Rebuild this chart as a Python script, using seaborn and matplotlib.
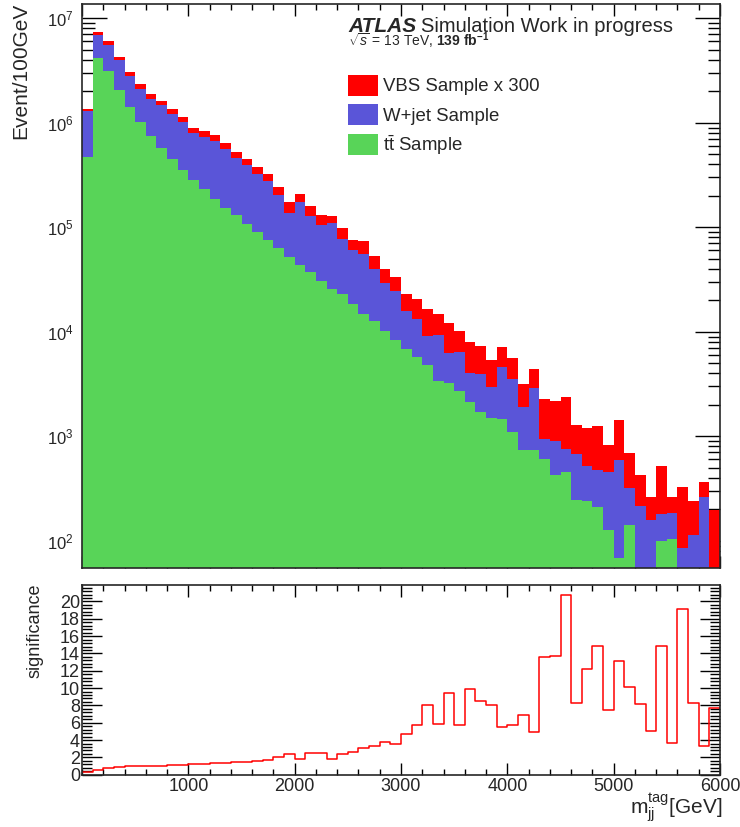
import numpy as np
import pandas as pd
import seaborn as sns
import matplotlib
matplotlib.use("Agg")
import matplotlib.pyplot as plt
from matplotlib.patches import Patch
from matplotlib.transforms import Affine2D
from matplotlib.ticker import MultipleLocator, LogLocator, NullFormatter, LogFormatterSciNotation

# ---------------------------------------------------------------- data
bin_edges = list(range(0, 6001, 100))

ttbar = [4.73e5, 4.16e6, 3.13e6, 2.04e6, 1.41e6, 1.01e6, 7.46e5, 5.73e5, 4.47e5, 3.52e5,
         2.83e5, 2.32e5, 1.87e5, 1.54e5, 1.30e5, 1.08e5, 8.93e4, 7.50e4, 6.28e4, 5.19e4,
         4.35e4, 3.73e4, 3.06e4, 2.56e4, 2.28e4, 1.84e4, 1.48e4, 1.27e4, 1.02e4, 8330,
         6830, 5730, 4800, 3380, 3230, 2710, 2120, 1690, 1490, 1450,
         1090, 738, 738, 601, 425, 454, 245, 238, 209, 128,
         69, 141, 0, 0, 99, 104, 0, 0, 0, 0]

wjet = [8.13e5, 2.70e6, 2.41e6, 1.91e6, 1.37e6, 1.09e6, 9.4e5, 8.97e5, 7.73e5, 6.57e5,
        5.14e5, 5.03e5, 4.81e5, 4.06e5, 3.29e5, 2.83e5, 2.34e5, 2.02e5, 1.39e5, 8.6e4,
        1.305e5, 9.07e4, 7.44e4, 8.34e4, 5.48e4, 4.21e4, 4.09e4, 2.74e4, 1.88e4, 1.60e4,
        8970, 7470, 4300, 5860, 2980, 3730, 1910, 2250, 1450, 3120,
        2420, 1152, 2132, 339, 475, 296, 426, 281, 266, 324,
        519, 182, 215, 158, 80, 79, 86, 113, 260, 0]

vbs_x300 = [5.7e4, 4.7e5, 4.7e5, 3.0e5, 2.5e5, 2.4e5, 1.8e5, 1.4e5, 1.4e5, 1.26e5,
            1.03e5, 9.3e4, 8.9e4, 7.5e4, 6.9e4, 5.9e4, 5.4e4, 4.8e4, 4.2e4, 3.6e4,
            3.2e4, 3.3e4, 2.6e4, 2.0e4, 2.0e4, 1.45e4, 1.76e4, 1.32e4, 1.11e4, 8900,
            7200, 7400, 7400, 5500, 5800, 3660, 3990, 3410, 2480, 2520,
            2050, 1290, 1500, 1340, 1290, 1640, 600, 690, 770, 368,
            840, 375, 208, 104, 336, 81, 241, 126, 102, 195]

significance = [0.35, 0.58, 0.73, 0.85, 0.96, 1.00, 1.00, 1.04, 1.08, 1.15,
                1.19, 1.19, 1.31, 1.35, 1.42, 1.42, 1.54, 1.65, 2.00, 2.42,
                1.77, 2.46, 2.46, 1.77, 2.42, 2.58, 3.08, 3.27, 3.73, 3.58,
                4.65, 5.73, 8.08, 5.88, 9.38, 5.73, 9.88, 8.50, 8.08, 5.54,
                5.77, 6.88, 4.96, 13.58, 13.69, 20.73, 8.31, 12.15, 14.88, 7.46,
                13.12, 10.08, 8.15, 5.08, 14.88, 3.69, 19.12, 8.23, 3.35, 7.69]

samples = ["VBS Sample x 300", "W+jet Sample", r"t$\bar{\mathrm{t}}$ Sample"]
colors = ["#ff0000", "#5a55d8", "#58d458"]

# ---------------------------------------------------------------- style
sns.set_theme(style="ticks")
plt.rcParams["font.family"] = ["Liberation Sans", "DejaVu Sans"]
plt.rcParams["mathtext.fontset"] = "custom"
plt.rcParams["mathtext.rm"] = "Liberation Sans"
plt.rcParams["mathtext.it"] = "Liberation Sans:italic"
plt.rcParams["mathtext.bf"] = "Liberation Sans:bold"
plt.rcParams["axes.linewidth"] = 1.2

W, H = 740, 827
fig = plt.figure(figsize=(W / 100, H / 100), dpi=100)
# pixel coordinates measured from the top-left corner of the canvas
px = Affine2D().scale(1 / W, -1 / H).translate(0, 1) + fig.transFigure


def axes_box(x0, y0, x1, y1):
    return [x0 / W, 1 - y1 / H, (x1 - x0) / W, (y1 - y0) / H]


ax_top = fig.add_axes(axes_box(82, 4, 720, 568.3))
ax_bot = fig.add_axes(axes_box(82, 585, 720, 774.7))

# ---------------------------------------------------------------- stacked histogram
centers = [(a + b) / 2 for a, b in zip(bin_edges[:-1], bin_edges[1:])]
long = pd.DataFrame({
    "mjj": centers * 3,
    "events": vbs_x300 + wjet + ttbar,
    "sample": [s for s in samples for _ in centers],
})
sns.histplot(data=long, x="mjj", weights="events", hue="sample", hue_order=samples,
             palette=colors, multiple="stack", bins=bin_edges, element="bars",
             shrink=1, linewidth=0, alpha=1, legend=False, ax=ax_top)
ax_top.set_yscale("log")
ax_top.set_xlim(0, 6000)
ax_top.set_ylim(54.5, 1.37e7)
ax_top.set_xlabel("")
ax_top.set_ylabel("")

ax_top.xaxis.set_major_locator(MultipleLocator(1000))
ax_top.xaxis.set_minor_locator(MultipleLocator(200))
ax_top.yaxis.set_major_locator(LogLocator(base=10, numticks=20))
ax_top.yaxis.set_minor_locator(LogLocator(base=10, subs=np.arange(2, 10), numticks=20))
ax_top.yaxis.set_minor_formatter(NullFormatter())
ax_top.yaxis.set_major_formatter(LogFormatterSciNotation())
ax_top.tick_params(axis="both", which="both", direction="in", top=True, right=True,
                   color="black", width=1.0)
ax_top.tick_params(axis="x", which="major", length=8.6, labelbottom=False)
ax_top.tick_params(axis="x", which="minor", length=4.3)
ax_top.tick_params(axis="y", which="major", length=18, labelsize=12, pad=6)
ax_top.tick_params(axis="y", which="minor", length=9)

ax_top.legend(handles=[Patch(facecolor=c, edgecolor="none", label=s)
                       for s, c in zip(samples, colors)],
              loc="upper left", bbox_to_anchor=(348, 75), bbox_transform=px,
              frameon=False, fontsize=13.4, borderpad=0, borderaxespad=0,
              handlelength=1.61, handleheight=1.32, handletextpad=0.28,
              labelspacing=0.46)

# ---------------------------------------------------------------- significance
sns.histplot(x=centers, weights=significance, bins=bin_edges, element="step",
             fill=False, color="#ff0000", linewidth=1.1, ax=ax_bot)
ax_bot.set_xlim(0, 6000)
ax_bot.set_ylim(0, 21.9)
ax_bot.set_xlabel("")
ax_bot.set_ylabel("")
ax_bot.xaxis.set_major_locator(MultipleLocator(1000))
ax_bot.xaxis.set_minor_locator(MultipleLocator(200))
ax_bot.yaxis.set_major_locator(MultipleLocator(2))
ax_bot.yaxis.set_minor_locator(MultipleLocator(0.4))
ax_bot.set_xticks([1000, 2000, 3000, 4000, 5000, 6000])
ax_bot.tick_params(axis="both", which="both", direction="in", top=True, right=True,
                   color="black", width=1.0, labelsize=13)
ax_bot.tick_params(axis="x", which="major", length=8.6, pad=2.5)
ax_bot.tick_params(axis="x", which="minor", length=4.3)
ax_bot.tick_params(axis="y", which="major", length=14.4, pad=1.5)
ax_bot.tick_params(axis="y", which="minor", length=7.2)

# ---------------------------------------------------------------- texts
fig.text(21, 139, "Event/100GeV", transform=px, rotation=90, ha="center",
         va="bottom", fontsize=15)
fig.text(35, 583, "significance", transform=px, rotation=90, ha="center", va="top",
         fontsize=13)
fig.text(722, 813, r"m$_{\mathrm{jj}}^{\mathrm{tag}}$[GeV]", transform=px,
         ha="right", va="baseline", fontsize=15)

atlas = fig.text(348, 32, "ATLAS", transform=px, fontsize=15, fontweight="bold",
                 fontstyle="italic", va="baseline")
fig.canvas.draw()
bb = atlas.get_window_extent()
x_after = bb.x1 * W / fig.bbox.width
fig.text(x_after + 5, 32, "Simulation Work in progress", transform=px,
         fontsize=14.5, va="baseline")
fig.text(348, 46.5, r"$\sqrt{s}$ = 13 TeV, $\mathbf{139\ fb^{-1}}$", transform=px,
         fontsize=10, va="baseline")

fig.savefig("out.png", dpi=100)
